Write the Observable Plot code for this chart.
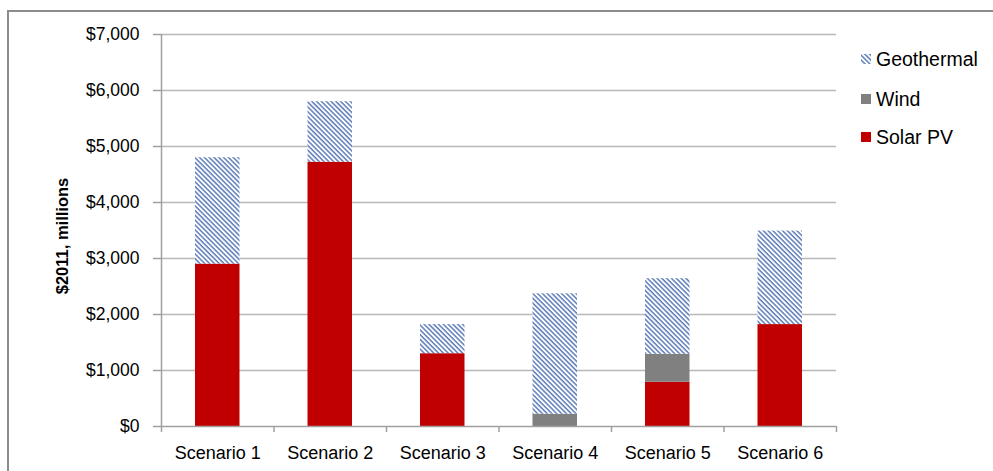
<!DOCTYPE html>
<html>
<head>
<meta charset="utf-8">
<script src="https://cdn.jsdelivr.net/npm/d3@7"></script>
<script src="https://cdn.jsdelivr.net/npm/@observablehq/plot@0.6"></script>
<style>
  html, body { margin: 0; padding: 0; background: #fff; }
  #wrap { position: relative; width: 993px; height: 471px; overflow: hidden; font-family: "Liberation Sans", Arial, sans-serif; }
  #frame { position: absolute; left: 7px; top: 10px; width: 1200px; height: 800px; border-left: 2px solid #8c8c8c; border-top: 2px solid #8c8c8c; box-sizing: border-box; }
  #chart { position: absolute; left: 0; top: 0; }
  #ytitle { position: absolute; left: 62px; top: 236px; transform: translate(-50%, -50%) rotate(-90deg); font-weight: bold; font-size: 16.5px; white-space: nowrap; color: #000; }
  .legend { position: absolute; left: 861px; top: 0; font-size: 19.5px; color: #000; }
  .legend div { position: absolute; white-space: nowrap; height: 22px; }
  .legend .sw { position: absolute; left: 0; top: 6px; width: 10px; height: 10px; }
  .legend .lb { position: absolute; left: 15px; top: 0; line-height: 22px; }
</style>
</head>
<body>
<svg width="0" height="0" style="position:absolute">
  <defs>
    <!-- wide downward diagonal hatch used for geothermal -->
    <pattern id="geo" patternUnits="userSpaceOnUse" width="3.4" height="3.4" patternTransform="rotate(45)">
      <rect width="3.4" height="3.4" fill="#ffffff"></rect>
      <rect width="3.4" height="1.5" fill="#5d7db8"></rect>
    </pattern>
  </defs>
</svg>
<div id="wrap">
  <div id="frame"></div>
  <div id="chart"></div>
  <div id="ytitle">$2011, millions</div>
  <div class="legend" id="legend"></div>
</div>
<script>
// Investment by technology and scenario, $2011 millions
const scenarios = ["Scenario 1", "Scenario 2", "Scenario 3", "Scenario 4", "Scenario 5", "Scenario 6"];
const solarPV    = [2900, 4720, 1300, 0, 790, 1820];
const wind       = [0, 0, 0, 220, 500, 0];
const geothermal = [1900, 1080, 520, 2150, 1350, 1670];
const seriesNames = ["Solar PV", "Wind", "Geothermal"];
const seriesFills = ["#c00000", "#808080", "url(#geo)"];
const yTicks = [0, 1000, 2000, 3000, 4000, 5000, 6000, 7000];

// long table, bottom-to-top stacking order within each scenario
const rows = [];
scenarios.forEach((s, i) => {
  rows.push({i, scenario: s, series: "Solar PV", value: solarPV[i]});
  rows.push({i, scenario: s, series: "Wind", value: wind[i]});
  rows.push({i, scenario: s, series: "Geothermal", value: geothermal[i]});
});

const fmt = d3.format("$,");
const slots = d3.range(scenarios.length + 1);
const centers = scenarios.map((_, i) => i + 0.5);

const chart = Plot.plot({
  width: 993,
  height: 471,
  marginTop: 34,
  marginBottom: 45,
  marginLeft: 161,
  marginRight: 157,
  style: {fontFamily: "Liberation Sans, Arial, sans-serif", fontSize: "17.5px", color: "#000", background: "transparent"},
  x: {domain: [0, scenarios.length], axis: null},
  y: {domain: [0, 7000], axis: null},
  color: {domain: seriesNames, range: seriesFills},
  marks: [
    Plot.gridY(yTicks.slice(1), {stroke: "#b8b8b8", strokeOpacity: 1, strokeWidth: 1.5}),
    Plot.rectY(rows, {
      x1: "i",
      x2: d => d.i + 1,
      y: "value",
      fill: "series",
      insetLeft: 34,
      insetRight: 34
    }),
    Plot.axisY(yTicks, {
      tickSize: 8,
      tickPadding: 14,
      tickFormat: fmt,
      stroke: "#a0a0a0",
      strokeWidth: 1.5,
      fontSize: 17.5,
      label: null
    }),
    Plot.ruleX([0], {stroke: "#a0a0a0", strokeWidth: 1.5}),
    Plot.ruleY([0], {stroke: "#a0a0a0", strokeWidth: 1.5}),
    Plot.axisX(slots, {tickSize: 6, tickFormat: () => "", stroke: "#a0a0a0", strokeWidth: 1.5, label: null}),
    Plot.axisX(centers, {tickSize: 0, tickPadding: 20, tickFormat: d => scenarios[Math.floor(d)], fontSize: 18, label: null})
  ]
});
document.getElementById("chart").appendChild(chart);

// legend, listed top-down in reverse stacking order
const legend = document.getElementById("legend");
const legendCenters = [59, 99, 137];
seriesNames.slice().reverse().forEach((name, k) => {
  const idx = seriesNames.indexOf(name);
  const row = document.createElement("div");
  row.style.top = (legendCenters[k] - 11) + "px";
  const sw = idx === 2
    ? `<svg class="sw" width="10" height="10"><rect width="10" height="10" fill="url(#geo)"/></svg>`
    : `<span class="sw" style="background:${seriesFills[idx]}"></span>`;
  row.innerHTML = sw + `<span class="lb">${name}</span>`;
  legend.appendChild(row);
});
</script>
</body>
</html>
